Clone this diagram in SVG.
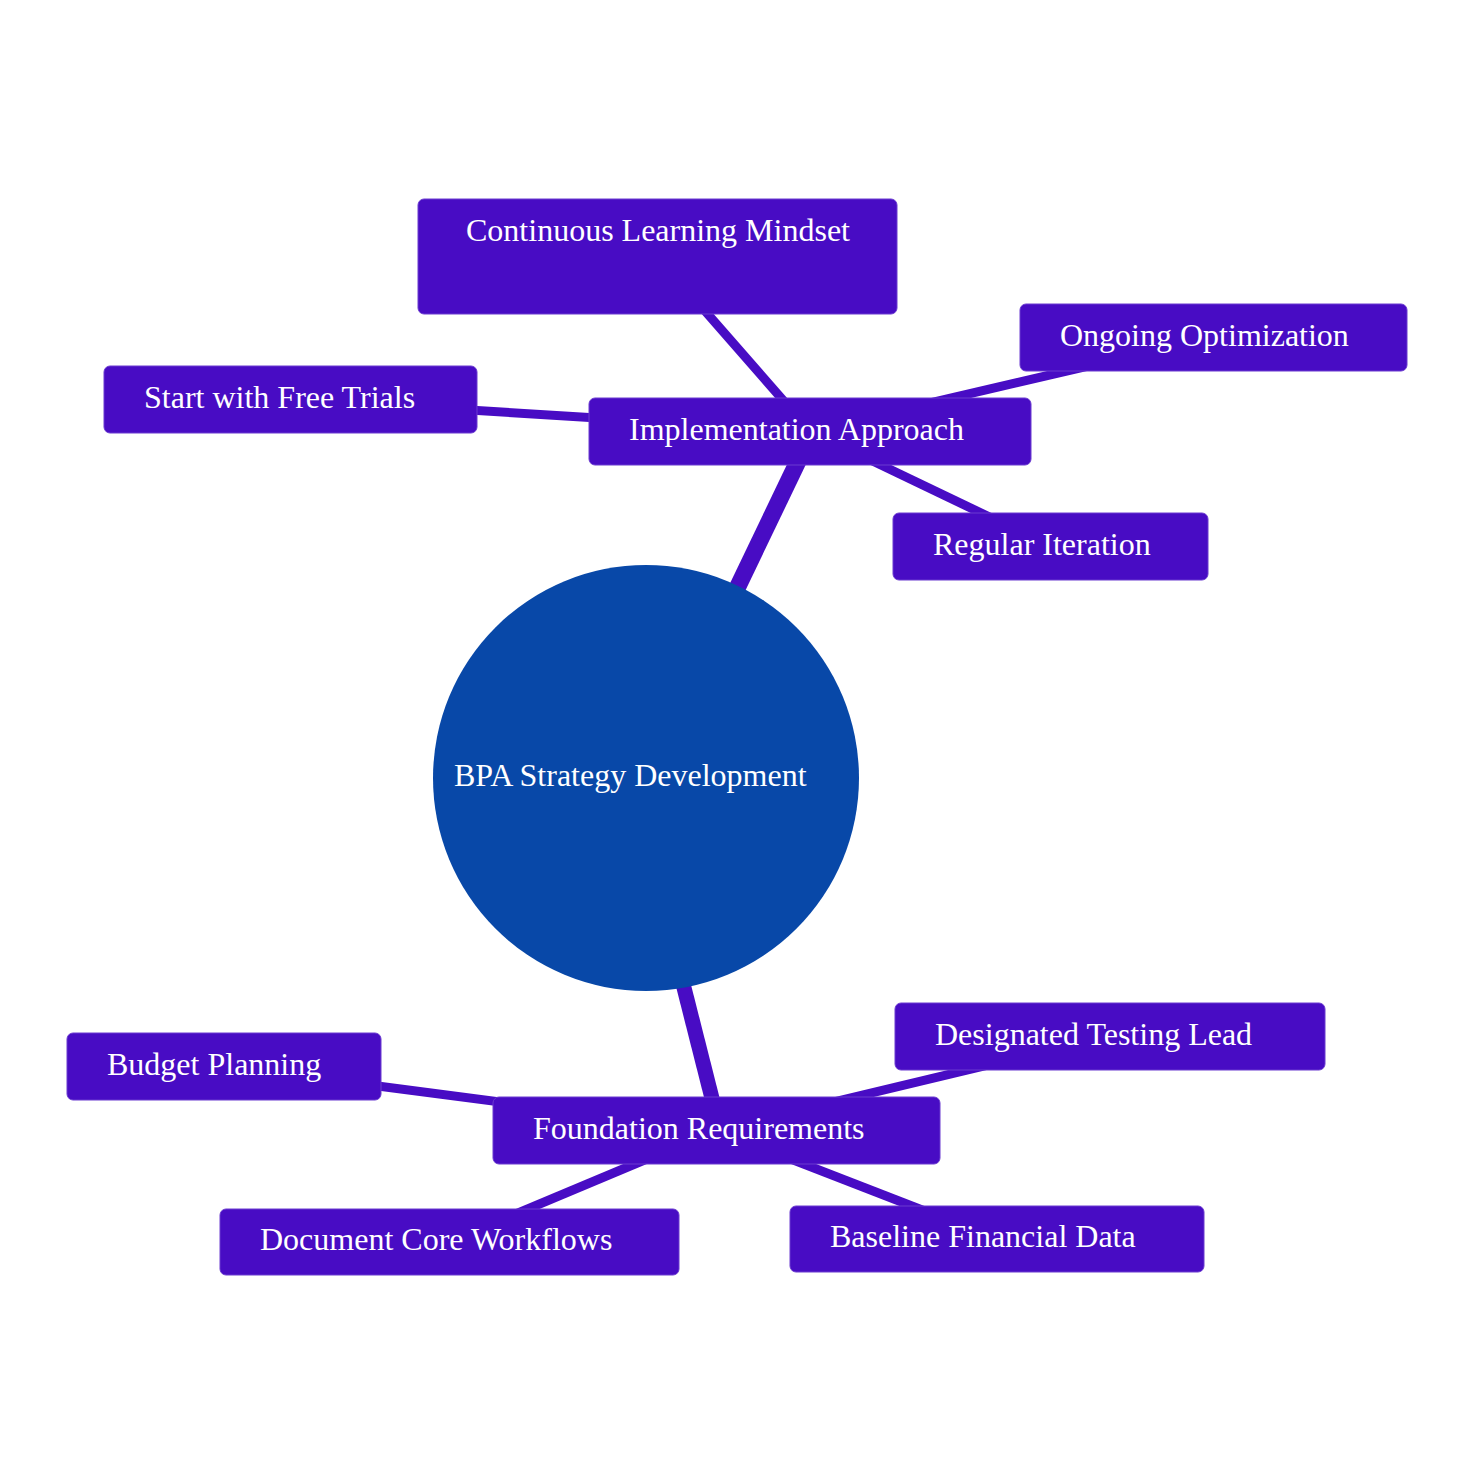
<svg xmlns="http://www.w3.org/2000/svg" width="1476" height="1476" viewBox="0 0 1476 1476">
<style>
.n{fill:#480cc4;stroke:#6a3ad0;stroke-width:1}
.t{font-family:"Liberation Serif","Times New Roman",serif;font-size:32px;fill:#ffffff}
.c{stroke:#480cc4;stroke-linecap:butt;fill:none}
</style>
<rect width="1476" height="1476" fill="#ffffff"/>
<g id="connectors">
<line class="c" x1="646" y1="778" x2="812" y2="432" stroke-width="17"/>
<line class="c" x1="631" y1="778" x2="720" y2="1130" stroke-width="15"/>
<line class="c" x1="657" y1="256" x2="810" y2="431" stroke-width="9"/>
<line class="c" x1="1213" y1="337" x2="810" y2="431" stroke-width="9"/>
<line class="c" x1="290" y1="399" x2="810" y2="431" stroke-width="9"/>
<line class="c" x1="1050" y1="546" x2="810" y2="431" stroke-width="9"/>
<line class="c" x1="224" y1="1066" x2="716" y2="1130" stroke-width="9"/>
<line class="c" x1="1110" y1="1036" x2="716" y2="1130" stroke-width="9"/>
<line class="c" x1="449" y1="1242" x2="716" y2="1130" stroke-width="9"/>
<line class="c" x1="997" y1="1239" x2="716" y2="1130" stroke-width="9"/>
</g>
<g id="root">
<circle cx="646" cy="778" r="213" fill="#0848a8"/>
<text class="t" x="454" y="786">BPA Strategy Development</text>
</g>
<g id="implementation">
<rect class="n" x="589" y="398" width="442" height="67" rx="6"/>
<text class="t" x="629" y="440">Implementation Approach</text>
</g>
<g id="continuous">
<rect class="n" x="418" y="199" width="479" height="115" rx="6"/>
<text class="t" x="466" y="241">Continuous Learning Mindset</text>
</g>
<g id="ongoing">
<rect class="n" x="1020" y="304" width="387" height="67" rx="6"/>
<text class="t" x="1060" y="346">Ongoing Optimization</text>
</g>
<g id="freetrials">
<rect class="n" x="104" y="366" width="373" height="67" rx="6"/>
<text class="t" x="144" y="408">Start with Free Trials</text>
</g>
<g id="iteration">
<rect class="n" x="893" y="513" width="315" height="67" rx="6"/>
<text class="t" x="933" y="555">Regular Iteration</text>
</g>
<g id="foundation">
<rect class="n" x="493" y="1097" width="447" height="67" rx="6"/>
<text class="t" x="533" y="1139">Foundation Requirements</text>
</g>
<g id="testinglead">
<rect class="n" x="895" y="1003" width="430" height="67" rx="6"/>
<text class="t" x="935" y="1045">Designated Testing Lead</text>
</g>
<g id="budget">
<rect class="n" x="67" y="1033" width="314" height="67" rx="6"/>
<text class="t" x="107" y="1075">Budget Planning</text>
</g>
<g id="workflows">
<rect class="n" x="220" y="1209" width="459" height="66" rx="6"/>
<text class="t" x="260" y="1250">Document Core Workflows</text>
</g>
<g id="financial">
<rect class="n" x="790" y="1206" width="414" height="66" rx="6"/>
<text class="t" x="830" y="1247">Baseline Financial Data</text>
</g>
</svg>
